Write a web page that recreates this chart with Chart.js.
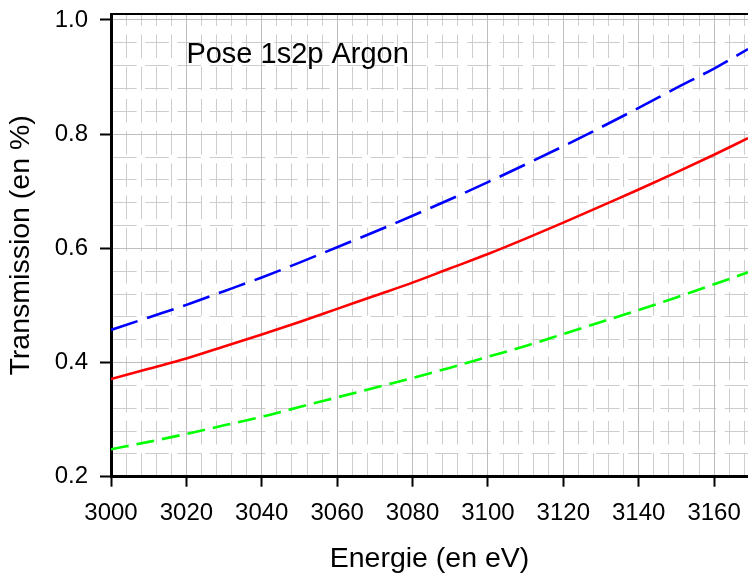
<!DOCTYPE html>
<html>
<head>
<meta charset="utf-8">
<script src="https://cdn.jsdelivr.net/npm/chart.js@4.4.0/dist/chart.umd.min.js"></script>
<style>
html,body{margin:0;padding:0;background:#fff;}
canvas{display:block;}
</style>
</head>
<body>
<canvas id="c" width="748" height="577"></canvas>
<script>
// ---- data ----
const energies   = [3000,3010,3020,3030,3040,3050,3060,3070,3080,3090,3100,3110,3120,3130,3140,3150,3160,3169];
const transBlue  = [0.457,0.479,0.501,0.525,0.549,0.575,0.602,0.629,0.657,0.686,0.716,0.747,0.779,0.812,0.846,0.881,0.915,0.949];
const transRed   = [0.371,0.389,0.407,0.428,0.449,0.471,0.494,0.517,0.540,0.565,0.590,0.617,0.645,0.674,0.703,0.733,0.764,0.793];
const transGreen = [0.248,0.261,0.275,0.290,0.305,0.322,0.339,0.356,0.373,0.391,0.410,0.429,0.450,0.471,0.492,0.514,0.537,0.558];
const xTickLabels = ['3000','3020','3040','3060','3080','3100','3120','3140','3160'];
const yTickLabels = ['0.2','0.4','0.6','0.8','1.0'];
const chartTitle = 'Pose 1s2p Argon';
const xTitle = 'Energie (en eV)';
const yTitle = 'Transmission (en %)';

const FONT = '"Liberation Sans", Arial, Helvetica, sans-serif';
Chart.defaults.font.family = FONT;
Chart.defaults.color = '#000';

const MINOR = '#cdcdcd';
const MAJOR = '#bdbdbd';
const CLEAR = 'rgba(0,0,0,0)';

const isMajorX = v => Math.abs(v / 20 - Math.round(v / 20)) < 1e-6;
const isMajorY = v => Math.abs(v / 0.2 - Math.round(v / 0.2)) < 1e-6;

function pts(ys) { return energies.map((e, i) => ({x: e, y: ys[i]})); }

function noPad(s) { s.paddingTop = 0; s.paddingBottom = 0; s.paddingLeft = 0; s.paddingRight = 0; }

const titlePlugin = {
  id: 'poseTitle',
  afterDatasetsDraw(chart) {
    const {ctx, scales: {x, y}} = chart;
    ctx.save();
    ctx.font = '29px ' + FONT;
    ctx.fillStyle = '#000';
    ctx.textBaseline = 'alphabetic';
    ctx.textAlign = 'left';
    ctx.fillText(chartTitle, x.getPixelForValue(3020.0), y.getPixelForValue(0.924));
    ctx.restore();
  }
};

new Chart(document.getElementById('c'), {
  type: 'line',
  data: {
    datasets: [
      { data: pts(transBlue), borderColor: '#0000ff', borderWidth: 2.6, borderDash: [28, 10], pointRadius: 0, cubicInterpolationMode: 'monotone', fill: false },
      { data: pts(transRed), borderColor: '#ff0000', borderWidth: 2.6, pointRadius: 0, cubicInterpolationMode: 'monotone', fill: false },
      { data: pts(transGreen), borderColor: '#00ff00', borderWidth: 2.6, borderDash: [18, 8], pointRadius: 0, cubicInterpolationMode: 'monotone', fill: false }
    ]
  },
  options: {
    responsive: false,
    animation: false,
    devicePixelRatio: 1,
    layout: { padding: { top: 14, right: 0, bottom: 0, left: 0 } },
    plugins: { legend: { display: false }, tooltip: { enabled: false }, title: { display: false } },
    scales: {
      x: {
        type: 'linear', position: 'bottom', min: 3000, max: 3169,
        afterFit(s) { s.height = 100.3; noPad(s); },
        ticks: {
          stepSize: 4, maxTicksLimit: 100, includeBounds: false, autoSkip: false,
          maxRotation: 0, minRotation: 0, padding: 12, font: { size: 24 }, color: '#000',
          callback(v) { const s = String(Math.round(v)); return (isMajorX(v) && xTickLabels.includes(s)) ? s : ''; }
        },
        grid: {
          color: c => (c.tick && isMajorX(c.tick.value)) ? CLEAR : MINOR,
          lineWidth: 1, drawTicks: true, tickLength: 10, tickWidth: 2,
          tickColor: c => (c.tick && isMajorX(c.tick.value)) ? '#000' : CLEAR
        },
        border: { display: true, color: '#000', width: 3, dash: [23.6, 8.6], dashOffset: 11.7 },
        title: { display: true, text: xTitle, font: { size: 28.5 }, color: '#000', padding: { top: 0, bottom: 1 } }
      },
      y: {
        type: 'linear', position: 'left', min: 0.2, max: 1.0105,
        afterFit(s) { s.width = 111; noPad(s); },
        ticks: {
          stepSize: 0.04, maxTicksLimit: 100, includeBounds: false, autoSkip: false,
          padding: 12, font: { size: 24 }, color: '#000',
          callback(v) { if (!isMajorY(v)) return ''; const s = v.toFixed(1); return yTickLabels.includes(s) ? s : ''; }
        },
        grid: {
          color: c => (c.tick && isMajorY(c.tick.value)) ? CLEAR : MINOR,
          lineWidth: 1, drawTicks: true, tickLength: 11, tickWidth: 2,
          tickColor: c => (c.tick && isMajorY(c.tick.value)) ? '#000' : CLEAR
        },
        border: { display: true, color: '#000', width: 3, dash: [23.6, 8.6], dashOffset: 0 },
        title: { display: true, text: yTitle, font: { size: 28.5 }, color: '#000', padding: { top: 4, bottom: 0 } }
      },
      xMajor: {
        type: 'linear', position: 'top', min: 3000, max: 3169, display: true,
        afterFit(s) { s.height = 0; noPad(s); },
        ticks: { display: false, stepSize: 20, maxTicksLimit: 100, includeBounds: false, autoSkip: false },
        grid: { color: MAJOR, lineWidth: 1, drawTicks: false, z: -0.5 },
        border: { display: true, color: '#000', width: 2 }
      },
      yMajor: {
        type: 'linear', position: 'right', min: 0.2, max: 1.0105, display: true,
        afterFit(s) { s.width = 0; noPad(s); },
        ticks: { display: false, stepSize: 0.2, maxTicksLimit: 100, includeBounds: false, autoSkip: false },
        grid: { color: MAJOR, lineWidth: 1, drawTicks: false, z: -0.5 },
        border: { display: false }
      }
    }
  },
  plugins: [titlePlugin]
});
</script>
</body>
</html>
